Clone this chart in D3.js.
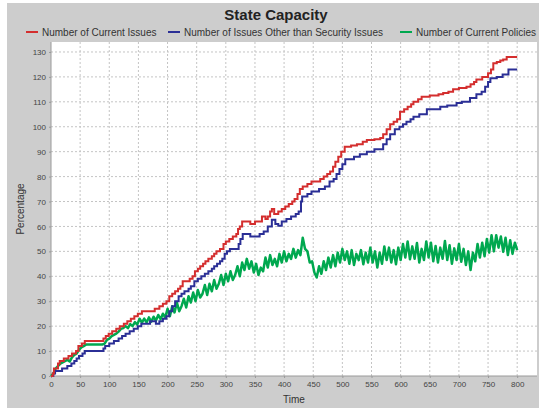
<!DOCTYPE html>
<html>
<head>
<meta charset="utf-8">
<script src="https://cdn.jsdelivr.net/npm/d3@7"></script>
<style>
  body { margin: 0; background: #fff; }
  svg { display: block; font-family: "Liberation Sans", Arial, sans-serif; }
</style>
</head>
<body>
<div class="canva"></div>
<script>
// step series: [time, value] change points
const currentIssues = [
  [0,0],[3,1],[5,3],[12,5],[15,6],[22,7],[30,8],[36,9],[43,10],[47,12],[53,13],[58,14],
  [90,15],[94,16],[99,17],[105,18],[112,19],[118,20],[125,21],[131,22],[137,23],[143,24],
  [149,25],[156,26],[178,27],[186,28],[192,29],[198,30],[203,32],[208,33],[213,34],[218,35],
  [222,36],[226,38],[238,39],[243,40],[247,42],[252,43],[256,44],[261,45],[265,46],[270,47],
  [276,48],[280,49],[284,50],[290,51],[296,53],[300,54],[306,55],[312,56],[318,57],[321,59],
  [324,60],[328,62],[342,61],[350,62],[362,64],[368,63],[372,64],[376,66],[379,67],[383,65],
  [390,66],[396,67],[402,68],[408,69],[414,70],[418,71],[423,73],[427,75],[432,76],[440,77],
  [447,78],[462,79],[468,80],[474,81],[479,82],[484,84],[488,86],[493,88],[498,90],[504,92],
  [515,92.5],[525,93],[535,94],[542,94.7],[555,95],[565,95.5],[570,97],[576,99],[582,101],
  [588,102],[594,103],[599,106],[606,107],[612,108],[618,109],[622,110],[630,111],[636,112],
  [650,112.5],[665,113],[673,113.5],[682,114],[690,115],[700,115.5],[713,116],[720,117],
  [726,118],[730,119],[740,120],[750,121.5],[755,123],[759,125.5],[765,126],[771,126.6],
  [776,127],[782,128],[800,128]
];

const otherIssues = [
  [0,0],[4,1],[7,2],[19,3],[28,4],[35,5],[40,6],[44,7],[48,8],[54,9],[58,10],[90,11],[93,12],
  [100,13],[108,14],[116,15],[122,16],[128,17],[135,18],[142,19],[149,20],[155,21],[170,22],
  [180,21],[186,22],[192,23],[198,24],[203,26],[208,28],[213,30],[219,32],[224,33],[229,34],
  [236,35],[240,36],[246,38],[252,39],[258,40],[264,41],[270,42],[276,43],[280,44],[285,45],
  [290,46],[294,47],[298,49],[302,50],[307,51],[322,53],[325,55],[329,57],[342,56],[358,57],
  [365,58],[372,60],[379,62.7],[385,61],[390,60.3],[396,62],[404,63],[412,64],[420,65],
  [425,66],[429,70],[431,72],[440,73],[447,74],[460,75],[470,76],[478,78],[485,79],[490,81],
  [495,83],[500,85],[505,87],[520,88],[530,89],[542,90],[555,91],[570,93],[576,95],[582,97],
  [590,99],[598,100],[604,101],[610,102],[617,103],[622,104],[632,105],[645,107],[668,108],
  [680,108.5],[696,109.5],[705,110],[719,111.5],[730,113],[739,114],[745,116],[750,118],
  [754,119.5],[765,120],[775,121],[785,123],[800,123]
];

// policies sampled every 4 time units, t = 0..800
const policyStep = 4;
const currentPolicies = [
  0,1,3,4,5,5.5,6,6.5,5.8,7.5,8.5,9,10.5,11.5,12,12.6,12.6,12.6,12.6,12.6,
  12.6,12.6,12.6,13,14.5,15,16,16.5,17,17.8,18.9,19.2,20,19.2,20.8,20,21.6,20.6,23,21.4,
  23,21.5,23.5,21.8,23.8,22.2,24.5,22.8,25,23.4,
  27,24,28,25.5,29.5,26,28,31,27.5,32,29.5,33.5,30,34.5,31.5,33,36.5,32.5,37,34,
  38.5,35,37,40.5,36.5,41,38,42,38.5,40.5,44,40,45.5,42.5,47,43,46,41.5,45,40.5,
  43.5,42,47.5,43.5,48.5,44.5,47,44,49,45.5,50,46,49,47,51,47.5,50.5,48.5,55.5,51,
  50,45.5,46,41.5,39.5,44,41,46,42.5,47.5,43.5,48.5,44,49.5,45.5,51,46.5,50,45,50.5,
  44.5,49,46.5,50.5,44.8,49.5,45.5,51.5,45.5,50,43.5,49.5,45,52,46.5,51.5,45.5,50.5,44.8,51.5,
  46.5,53,47.5,54,46.8,52,47,53.4,45.5,51,46.5,54,47.5,53.5,46,52.2,45.5,51.5,47,54.2,
  46.5,52.5,45,51.2,46.5,53,45.8,51,44.5,50,42.5,49.5,46,53,47.5,53.5,48,55,49.5,56.5,
  50,56.5,51.5,56,49.8,55.5,48.5,54.5,49,53.5,50.5
];

const seriesNames = ["Number of Current Issues", "Number of Issues Other than Security Issues", "Number of Current Policies"];
const seriesColors = ["#d42e2e", "#2b2f96", "#00a84f"];
const xTicks = d3.range(0, 801, 50);
const yTicks = d3.range(0, 131, 10);

const W = 539, H = 408;
const plot = { left: 51, right: 537, top: 42, bottom: 376 };

const svg = d3.select(".canva").append("svg")
  .attr("width", W).attr("height", H);

svg.append("rect").attr("x", 7).attr("y", 3).attr("width", W - 7).attr("height", H - 3)
  .attr("fill", "#cdcdcd");

const x = d3.scaleLinear().domain([0, 834]).range([plot.left, plot.right]);
const y = d3.scaleLinear().domain([0, 134]).range([plot.bottom, plot.top]);

svg.append("rect")
  .attr("x", plot.left).attr("y", plot.top)
  .attr("width", plot.right - plot.left).attr("height", plot.bottom - plot.top)
  .attr("fill", "#fff");

// grid
svg.append("g").selectAll("line").data(xTicks.filter(d => d > 0)).enter().append("line")
  .attr("x1", d => x(d)).attr("x2", d => x(d))
  .attr("y1", plot.top).attr("y2", plot.bottom)
  .attr("stroke", "#c4c4c4").attr("stroke-dasharray", "2,2");
svg.append("g").selectAll("line").data(yTicks.filter(d => d > 0)).enter().append("line")
  .attr("x1", plot.left).attr("x2", plot.right)
  .attr("y1", d => y(d)).attr("y2", d => y(d))
  .attr("stroke", "#c4c4c4").attr("stroke-dasharray", "2,2");

// axes
const xAxis = svg.append("g").attr("transform", `translate(0,${plot.bottom})`)
  .call(d3.axisBottom(x).tickValues(xTicks).tickSize(2).tickPadding(3));
const yAxis = svg.append("g").attr("transform", `translate(${plot.left},0)`)
  .call(d3.axisLeft(y).tickValues(yTicks).tickSize(2).tickPadding(3));
[xAxis, yAxis].forEach(a => {
  a.select(".domain").attr("stroke", "#9a9a9a");
  a.selectAll(".tick line").attr("stroke", "#9a9a9a");
  a.selectAll(".tick text").attr("fill", "#444").style("font-size", "8px")
    .style("font-family", "'Liberation Sans', Arial, sans-serif");
});
xAxis.select(".domain").attr("d", `M${plot.left},0H${plot.right}`);
yAxis.select(".domain").attr("d", `M0,${plot.bottom}V${plot.top}`);

// lines
const stepLine = d3.line().x(d => x(d[0])).y(d => y(d[1])).curve(d3.curveStepAfter);
const plainLine = d3.line().x((d, i) => x(i * policyStep)).y(d => y(d));

svg.append("path").datum(currentPolicies).attr("d", plainLine)
  .attr("fill", "none").attr("stroke", seriesColors[2]).attr("stroke-width", 2.5)
  .attr("stroke-linejoin", "round");
svg.append("path").datum(otherIssues).attr("d", stepLine)
  .attr("fill", "none").attr("stroke", seriesColors[1]).attr("stroke-width", 2);
svg.append("path").datum(currentIssues).attr("d", stepLine)
  .attr("fill", "none").attr("stroke", seriesColors[0]).attr("stroke-width", 2);

// titles
svg.append("text").attr("x", 276).attr("y", 20).attr("text-anchor", "middle")
  .style("font-size", "15px").style("font-weight", "bold").attr("fill", "#222")
  .text("State Capacity");

svg.append("text").attr("x", (plot.left + plot.right) / 2).attr("y", 403)
  .attr("text-anchor", "middle").style("font-size", "10px").attr("fill", "#333")
  .text("Time");
svg.append("text").attr("transform", `translate(24,${(plot.top + plot.bottom) / 2}) rotate(-90)`)
  .attr("text-anchor", "middle").style("font-size", "10px").attr("fill", "#333")
  .text("Percentage");

// legend
const legendX = [26, 168, 400];
const legend = svg.append("g").selectAll("g").data(seriesNames).enter().append("g")
  .attr("transform", (d, i) => `translate(${legendX[i]},32)`);
legend.append("line").attr("x1", 0).attr("x2", 12).attr("y1", 0).attr("y2", 0)
  .attr("stroke", (d, i) => seriesColors[i]).attr("stroke-width", 2);
legend.append("text").attr("x", 16).attr("y", 3.5)
  .style("font-size", "10px").attr("fill", "#333").text(d => d);
</script>
</body>
</html>
